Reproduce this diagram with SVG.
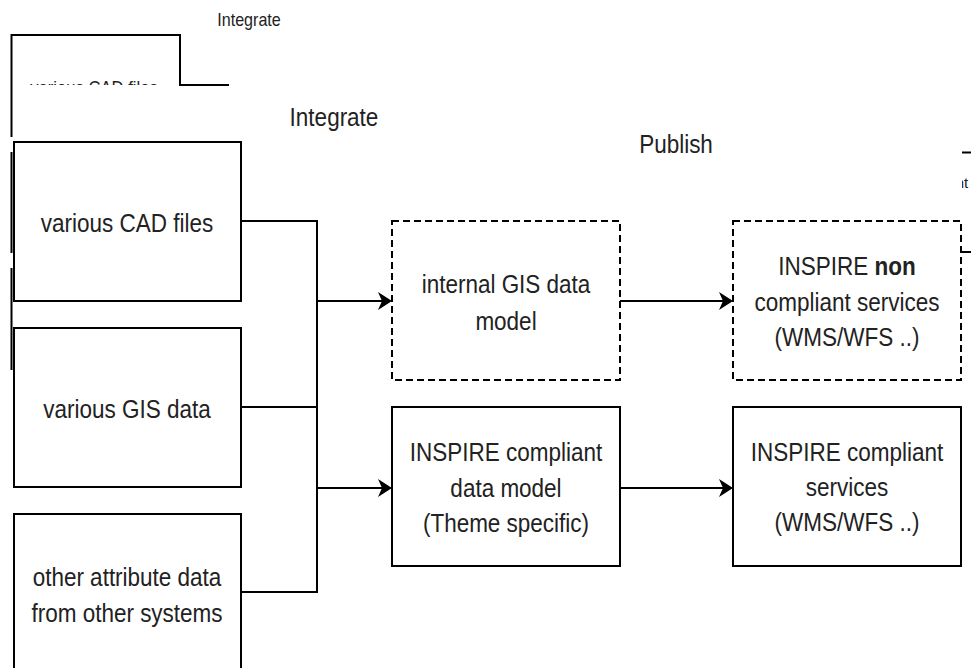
<svg xmlns="http://www.w3.org/2000/svg" width="971" height="668" viewBox="0 0 971 668">
  <defs>
    <style>
      .box { fill: #ffffff; stroke: #000000; stroke-width: 2; }
      .dash { fill: #ffffff; stroke: #000000; stroke-width: 2; stroke-dasharray: 7 4; }
      .edge { fill: none; stroke: #000000; stroke-width: 2; }
      .lbl { font-family: "Liberation Sans", Arial, sans-serif; font-size: 25px; fill: #222222; text-anchor: middle; }
      .sm { font-family: "Liberation Sans", Arial, sans-serif; font-size: 17.5px; fill: #222222; text-anchor: middle; }
      .b { font-weight: bold; }
    </style>
    <marker id="arrow" markerUnits="userSpaceOnUse" markerWidth="15" markerHeight="18" refX="10" refY="9" orient="auto">
      <path d="M0,0 L14,9 L0,18 L4,9 Z" fill="#000000"/>
    </marker>
    <clipPath id="topClip">
      <rect x="0" y="0" width="971" height="85"/>
    </clipPath>
    <clipPath id="rightClip">
      <rect x="962" y="0" width="9" height="668"/>
    </clipPath>
  </defs>

  <rect x="0" y="0" width="971" height="668" fill="#ffffff"/>

  <!-- background layer peeking out around the main sheet -->
  <g id="back-layer">
    <text class="sm" transform="translate(249 26) scale(0.92 1)">Integrate</text>
    <path class="edge" d="M11.5,35 L180,35 L180,85 L229,85"/>
    <path class="edge" d="M11.5,34 L11.5,137"/>
    <g clip-path="url(#topClip)">
      <text class="sm" transform="translate(94 94) scale(0.9 1)" style="font-size:18.5px">various CAD files</text>
    </g>
    <path class="edge" d="M11.5,152 L11.5,253 M11.5,268 L11.5,370"/>
    <path class="edge" d="M962,152.5 L971,152.5 M962,252 L971,252"/>
    <g clip-path="url(#rightClip)">
      <text class="sm" x="962" y="188" style="font-size:15px">nt</text>
    </g>
  </g>

  <!-- main sheet -->
  <rect x="13" y="86" width="949" height="582" fill="#ffffff"/>

  <g id="titles">
    <text class="lbl" transform="translate(334 126) scale(0.9 1)">Integrate</text>
    <text class="lbl" transform="translate(676 153) scale(0.9 1)">Publish</text>
  </g>

  <g id="connectors">
    <path class="edge" d="M241,221 L317,221 L317,592 L241,592"/>
    <path class="edge" d="M241,407 L317,407"/>
    <path class="edge" d="M317,301 L388,301" marker-end="url(#arrow)"/>
    <path class="edge" d="M317,488 L388,488" marker-end="url(#arrow)"/>
    <path class="edge" d="M620,301 L729,301" marker-end="url(#arrow)"/>
    <path class="edge" d="M620,488 L729,488" marker-end="url(#arrow)"/>
  </g>

  <g id="cad-files">
    <rect class="box" x="14" y="142" width="227" height="159"/>
    <text class="lbl" transform="translate(127 232) scale(0.9 1)">various CAD files</text>
  </g>

  <g id="gis-data">
    <rect class="box" x="14" y="328" width="227" height="159"/>
    <text class="lbl" transform="translate(127 418) scale(0.9 1)">various GIS data</text>
  </g>

  <g id="attribute-data">
    <rect class="box" x="14" y="514" width="227" height="160"/>
    <text class="lbl" transform="translate(127 0) scale(0.9 1)"><tspan x="0" y="586">other attribute data</tspan><tspan x="0" y="622">from other systems</tspan></text>
  </g>

  <g id="internal-model">
    <rect class="dash" x="392" y="221" width="228" height="159"/>
    <text class="lbl" transform="translate(506 0) scale(0.9 1)"><tspan x="0" y="293">internal GIS data</tspan><tspan x="0" y="330">model</tspan></text>
  </g>

  <g id="inspire-model">
    <rect class="box" x="392" y="407" width="228" height="159"/>
    <text class="lbl" transform="translate(506 0) scale(0.9 1)"><tspan x="0" y="461">INSPIRE compliant</tspan><tspan x="0" y="497">data model</tspan><tspan x="0" y="532">(Theme specific)</tspan></text>
  </g>

  <g id="non-compliant-services">
    <rect class="dash" x="733" y="221" width="228" height="159"/>
    <text class="lbl" transform="translate(847 0) scale(0.9 1)"><tspan x="0" y="275">INSPIRE <tspan class="b">non</tspan></tspan><tspan x="0" y="311">compliant services</tspan><tspan x="0" y="346">(WMS/WFS ..)</tspan></text>
  </g>

  <g id="compliant-services">
    <rect class="box" x="733" y="407" width="228" height="159"/>
    <text class="lbl" transform="translate(847 0) scale(0.9 1)"><tspan x="0" y="461">INSPIRE compliant</tspan><tspan x="0" y="496">services</tspan><tspan x="0" y="531">(WMS/WFS ..)</tspan></text>
  </g>
</svg>
